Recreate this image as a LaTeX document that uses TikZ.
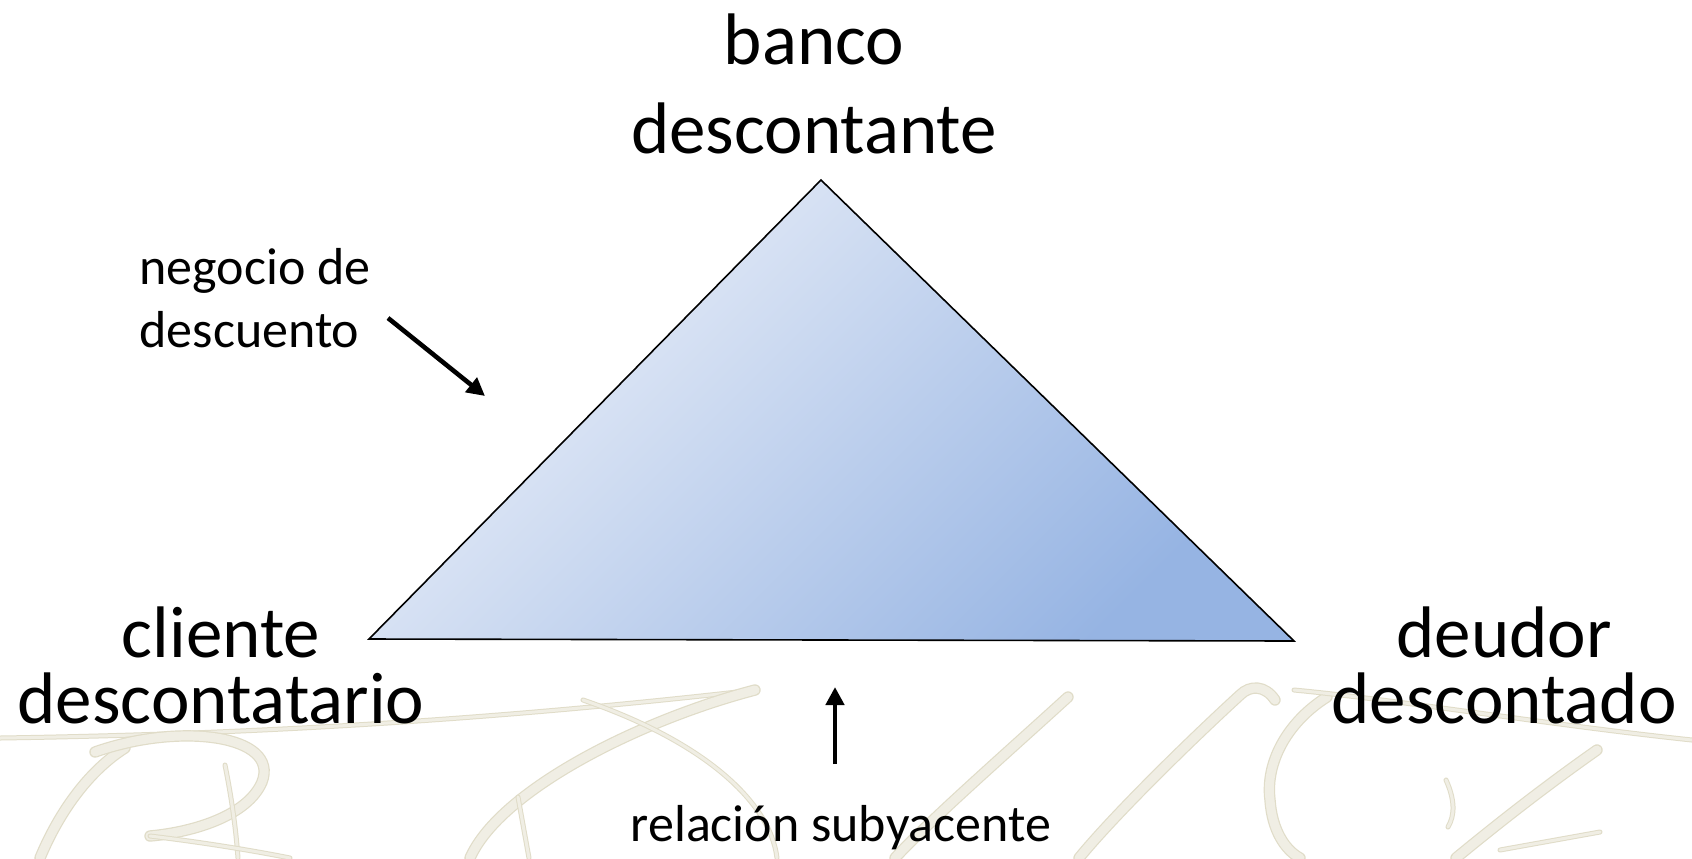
\documentclass[tikz,border=0pt]{standalone}
\usepackage{fontspec}
\setmainfont{Carlito}
\usepackage{tikz}
\usetikzlibrary{arrows.meta}
\usetikzlibrary{positioning}

\definecolor{triLight}{RGB}{237,241,249}
\definecolor{triMid}{RGB}{207,218,240}
\definecolor{triDark}{RGB}{150,180,227}
\definecolor{wmEdge}{RGB}{224,220,200}
\definecolor{wmFill}{RGB}{240,238,228}

\begin{document}
\begin{tikzpicture}[x=0.5pt, y=-0.5pt,
        party/.style={align=center, inner sep=0pt, font=\fontsize{36.5}{44.3}\selectfont},
        partytight/.style={align=center, inner sep=0pt, font=\fontsize{36.5}{33}\selectfont},
        note/.style={inner sep=0pt, font=\fontsize{26}{31.5}\selectfont},
        pointer/.style={-{Triangle[length=9pt, width=9pt]}, line width=2.3pt},
        flourish/.style={draw=wmEdge, double=wmFill, double distance=4.5pt, line width=0.6pt, line cap=round},
        hairline/.style={draw=wmEdge, double=wmFill, double distance=1.5pt, line width=0.5pt, line cap=round}
      ]
        \fill[white] (0,0) rectangle (1692,858);
        \useasboundingbox (0,0) rectangle (1692,858);

        % watermark
        \draw[hairline]  (0,738) .. controls (200,735) and (450,725) .. (755,690);
        \draw[flourish]  (40,858) .. controls (60,810) and (90,770) .. (125,748);
        \draw[flourish]  (95,752) .. controls (180,722) and (280,735) .. (262,782) .. controls (248,815) and (195,832) .. (150,836);
        \draw[hairline]  (225,765) .. controls (232,800) and (236,830) .. (238,858);
        \draw[hairline]  (150,836) .. controls (200,842) and (250,850) .. (290,858);
        \draw[flourish]  (755,690) .. controls (640,720) and (500,790) .. (470,858);
        \draw[hairline]  (583,700) .. controls (700,740) and (770,800) .. (777,858);
        \draw[hairline]  (518,797) -- (529,858);
        \draw[flourish]  (1068,697) .. controls (1010,750) and (930,820) .. (895,858);
        \draw[flourish]  (1275,700) .. controls (1265,685) and (1250,685) .. (1240,695) .. controls (1180,750) and (1110,820) .. (1079,858);
        \draw[flourish]  (1327,697) .. controls (1290,720) and (1265,760) .. (1270,800) .. controls (1272,830) and (1285,850) .. (1300,858);
        \draw[hairline]  (1294,690) .. controls (1400,700) and (1550,725) .. (1692,740);
        \draw[flourish]  (1597,750) .. controls (1540,790) and (1490,830) .. (1456,858);
        \draw[hairline]  (1446,780) .. controls (1455,800) and (1455,815) .. (1448,827);
        \draw[hairline]  (1500,850) -- (1600,832);

        % triangle
        \coordinate (apex)  at (821,180);
        \coordinate (left)  at (369,639);
        \coordinate (right) at (1294,641);
        \shade[top color=triLight, middle color=triMid, bottom color=triDark, shading angle=45] (apex) -- (right) -- (left) -- cycle;
        \draw[line width=0.8pt, line join=miter] (apex) -- (right) -- (left) -- cycle;

        % parties
        \node[party]       (bank)   at (814,84)   {banco\\descontante};
        \node[partytight]  (client) at (221,665)  {cliente\\descontatario};
        \node[partytight]  (debtor) at (1504,665) {deudor\\descontado};

        % notes
        \node[note, align=left] (deal)  at (255,298) {negocio de\\descuento};
        \node[note]             (basis) at (841,828) {relación subyacente};

        \coordinate (dealtail) at (388,318);
        \coordinate (dealtip)  at (485,396);
        \coordinate (basetail) at (835,764);
        \coordinate (basetip)  at (835,687);
        \draw[pointer] (dealtail) -- (dealtip);
        \draw[pointer] (basetail) -- (basetip);
      \end{tikzpicture}
\end{document}
